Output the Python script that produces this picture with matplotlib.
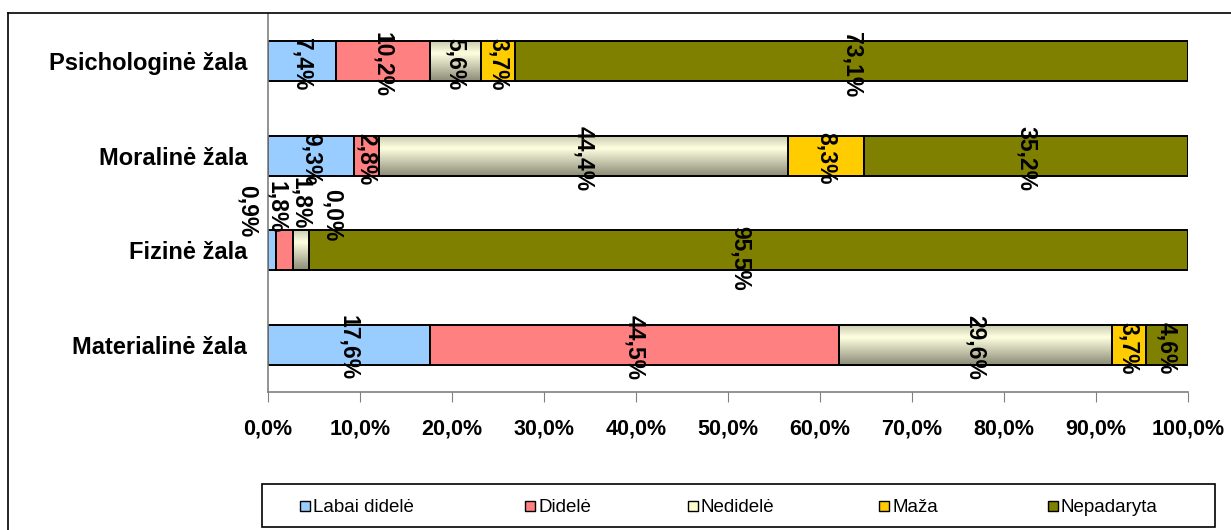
import numpy as np
import matplotlib
matplotlib.use("Agg")
import matplotlib.pyplot as plt
from matplotlib.patches import Rectangle
from matplotlib.lines import Line2D
from matplotlib.colors import LinearSegmentedColormap

plt.rcParams['font.family'] = ['Liberation Sans', 'DejaVu Sans']

# data (top to bottom)
categories = ["Psichologinė žala", "Moralinė žala", "Fizinė žala", "Materialinė žala"]
series = ["Labai didelė", "Didelė", "Nedidelė", "Maža", "Nepadaryta"]
labai_didele = [7.4, 9.3, 0.9, 17.6]
didele = [10.2, 2.8, 1.8, 44.5]
nedidele = [5.6, 44.4, 1.8, 29.6]
maza = [3.7, 8.3, 0.0, 3.7]
nepadaryta = [73.1, 35.2, 95.5, 4.6]
xticks = [0, 10, 20, 30, 40, 50, 60, 70, 80, 90, 100]

values = [labai_didele, didele, nedidele, maza, nepadaryta]
colors = ["#99CCFF", "#FF8080", "#FFFFCC", "#FFCC00", "#808000"]

# label nudges (pixels) for the crowded Fizinė row, per series
fiz_offsets = [(-25, -39), (-8, -43), (-1, -47), (23, -35), (-8, 8)]
# legend key x positions (pixels), like the Excel layout
legend_x = [305, 530, 693, 884, 1053]

W, H = 1231, 530
fig = plt.figure(figsize=(W / 100, H / 100), dpi=100)
ax = fig.add_axes([268 / W, 1 - 392 / H, 920 / W, 378 / H])

y = np.arange(len(categories))
bh = 0.42
left = np.zeros(len(categories))
grad_cmap = LinearSegmentedColormap.from_list(
    "ned", [(0.0, (0.80, 0.80, 0.70)), (0.3, (1.0, 1.0, 0.88)), (1.0, (0.55, 0.55, 0.47))])

for si, (vals, col) in enumerate(zip(values, colors)):
    bars = ax.barh(y, vals, left=left, height=bh, color=col,
                   edgecolor="black", linewidth=1.4, zorder=2)
    if si == 2:
        # gradient fill like the original
        grad = np.linspace(0, 1, 64).reshape(-1, 1)
        for b in bars:
            x0, y0 = b.get_x(), b.get_y()
            x1, y1 = x0 + b.get_width(), y0 + b.get_height()
            im = ax.imshow(grad, cmap=grad_cmap, aspect="auto",
                           extent=(x0, x1, y1, y0), zorder=2.1)
            im.set_clip_path(b)
        ax.barh(y, vals, left=left, height=bh, fill=False,
                edgecolor="black", linewidth=1.4, zorder=2.2)
    for ci, v in enumerate(vals):
        xc = left[ci] + v / 2
        lab = ("%.1f%%" % v).replace(".", ",")
        off = fiz_offsets[si] if ci == 2 else (0, 3)
        ax.annotate(lab, (xc, y[ci]), xytext=(off[0], -off[1]),
                    textcoords="offset pixels", rotation=-90,
                    ha="center", va="center", fontsize=16.5,
                    fontweight="bold", zorder=5, annotation_clip=False)
    left = left + np.array(vals)

ax.set_xlim(0, 100)
ax.set_ylim(-0.5, len(categories) - 0.5)
ax.invert_yaxis()
ax.set_xticks(xticks)
ax.set_xticklabels([("%.1f%%" % t).replace(".", ",") for t in xticks],
                   fontsize=15.5, fontweight="bold")
ax.set_yticks(y)
ax.set_yticklabels(categories, fontsize=17, fontweight="bold")
ax.tick_params(axis="x", length=7, color="#808080", pad=12)
ax.tick_params(axis="y", length=0, pad=15)
for s in ["top", "right"]:
    ax.spines[s].set_visible(False)
for s in ["left", "bottom"]:
    ax.spines[s].set_color("#808080")
    ax.spines[s].set_linewidth(1.2)

# outer chart frame (top and left edges visible)
fig.add_artist(Line2D([8 / W, 1], [1 - 13 / H, 1 - 13 / H], color="black", lw=1.2))
fig.add_artist(Line2D([8 / W, 8 / W], [0, 1 - 13 / H], color="black", lw=1.2))

# legend box with keys placed like the original
fig.add_artist(Rectangle((262 / W, 1 - 527 / H), (1215 - 262) / W, 43 / H,
                         transform=fig.transFigure, fill=False,
                         edgecolor="black", linewidth=1.2))
ky = 1 - 505.5 / H
ks = 10
for name, col, lx in zip(series, colors, legend_x):
    fig.add_artist(Rectangle(((lx - ks / 2) / W, ky - ks / 2 / H), ks / W, ks / H,
                             transform=fig.transFigure, facecolor=col,
                             edgecolor="black", linewidth=1))
    fig.text((lx + ks / 2 + 3) / W, ky, name, ha="left", va="center_baseline",
             fontsize=13.5)

fig.savefig("out.png", dpi=100)
